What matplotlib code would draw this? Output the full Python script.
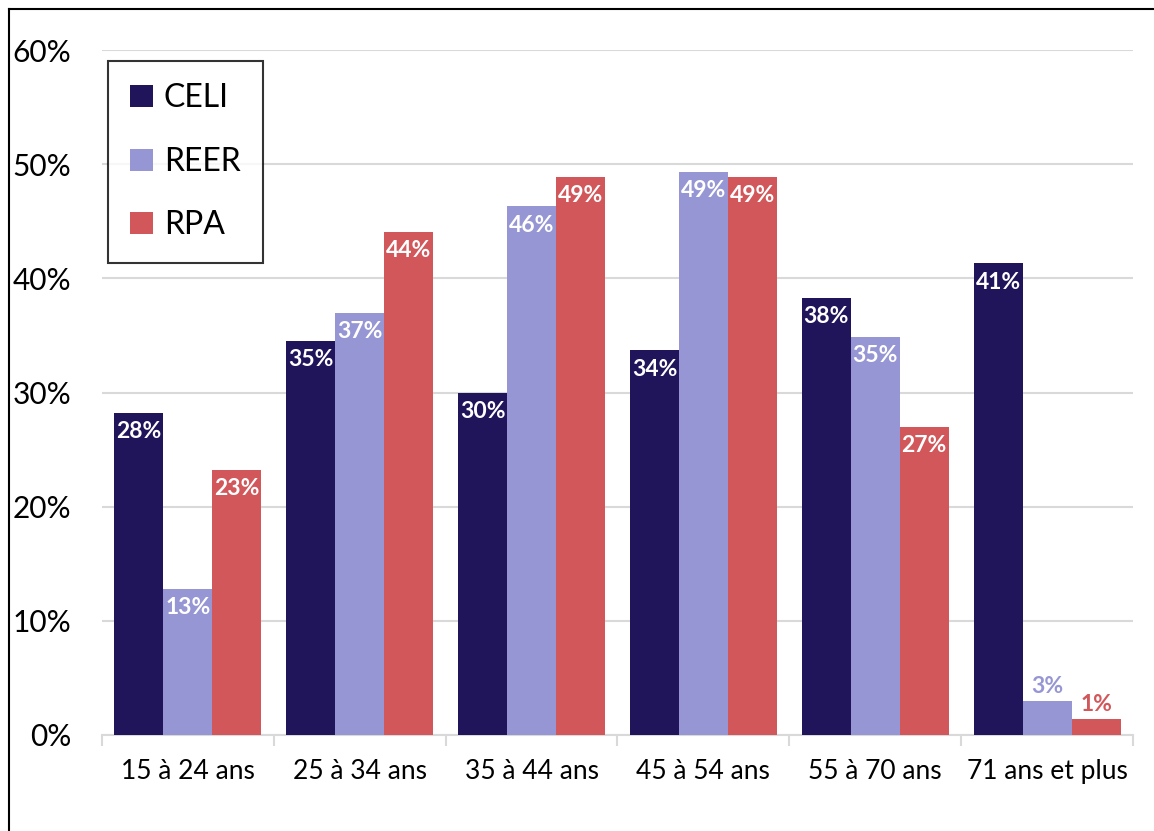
import matplotlib
matplotlib.use("Agg")
import matplotlib.pyplot as plt
import numpy as np
from matplotlib.lines import Line2D
from matplotlib.patches import Patch

categories = ["15 à 24 ans", "25 à 34 ans", "35 à 44 ans", "45 à 54 ans", "55 à 70 ans", "71 ans et plus"]
series_names = ["CELI", "REER", "RPA"]
celi = [28.2, 34.5, 30.0, 33.7, 38.3, 41.3]
reer = [12.8, 37.0, 46.3, 49.3, 34.9, 3.0]
rpa = [23.2, 44.1, 48.9, 48.9, 27.0, 1.4]
labels_celi = ["28%", "35%", "30%", "34%", "38%", "41%"]
labels_reer = ["13%", "37%", "46%", "49%", "35%", "3%"]
labels_rpa = ["23%", "44%", "49%", "49%", "27%", "1%"]
yticks = [0, 10, 20, 30, 40, 50, 60]
ytick_labels = ["0%", "10%", "20%", "30%", "40%", "50%", "60%"]

colors = ["#20145a", "#9696d4", "#d2575a"]
FONT = "Lato"

fig = plt.figure(figsize=(11.54, 8.31), dpi=100)
ax = fig.add_axes([102/1154, 1-735/831, (1133-102)/1154, (735-50)/831])

x = np.arange(len(categories))
w = 0.285
allvals = [celi, reer, rpa]
alllabels = [labels_celi, labels_reer, labels_rpa]
for i, (vals, labs, c, name) in enumerate(zip(allvals, alllabels, colors, series_names)):
    pos = x + (i - 1) * w
    ax.bar(pos, vals, width=w, color=c, label=name, zorder=3)
    for p, v, lab in zip(pos, vals, labs):
        if v < 8:
            ax.annotate(lab, (p, v), xytext=(0, 3), textcoords="offset points",
                        ha="center", va="bottom", color=c, fontsize=16.5,
                        fontweight="bold", family=FONT, zorder=4)
        else:
            ax.annotate(lab, (p, v), xytext=(0, -6), textcoords="offset points",
                        ha="center", va="top", color="white", fontsize=16.5,
                        fontweight="bold", family=FONT, zorder=4)

ax.set_xlim(-0.5, len(categories) - 0.5)
ax.set_ylim(0, 60)
ax.set_yticks(yticks)
ax.set_yticklabels(ytick_labels, family=FONT, fontsize=21.5)
ax.tick_params(axis="y", length=0, pad=22)
ax.yaxis.grid(True, color="#d9d9d9", linewidth=1.5, zorder=0)
ax.set_axisbelow(True)

ax.set_xticks(np.arange(-0.5, len(categories)), minor=False)
ax.set_xticklabels([])
ax.tick_params(axis="x", which="major", length=8, color="#d9d9d9", width=1.5)
ax.set_xticks(x, minor=True)
ax.set_xticklabels(categories, minor=True, family=FONT, fontsize=19)
ax.tick_params(axis="x", which="minor", length=0, pad=17)

for s in ["top", "right", "left"]:
    ax.spines[s].set_visible(False)
ax.spines["bottom"].set_color("#d9d9d9")
ax.spines["bottom"].set_linewidth(1.5)

handles = [Patch(facecolor=c, edgecolor="none") for c in colors]
leg = fig.legend(handles, series_names, loc="upper left",
                 bbox_to_anchor=(108/1154, 1-61/831),
                 prop={"family": FONT, "size": 23}, frameon=True, fancybox=False,
                 edgecolor="black", handlelength=0.7, handleheight=0.7,
                 labelspacing=1.05, borderpad=0.7, handletextpad=0.35,
                 borderaxespad=0)
leg.get_frame().set_linewidth(1.5)

fig.add_artist(Line2D([9/1154, 9/1154], [0, 1-9/831], color="black", linewidth=1.5, transform=fig.transFigure))
fig.add_artist(Line2D([9/1154, 1], [1-9/831, 1-9/831], color="black", linewidth=1.5, transform=fig.transFigure))

fig.savefig("out.png", dpi=100, facecolor="white")
